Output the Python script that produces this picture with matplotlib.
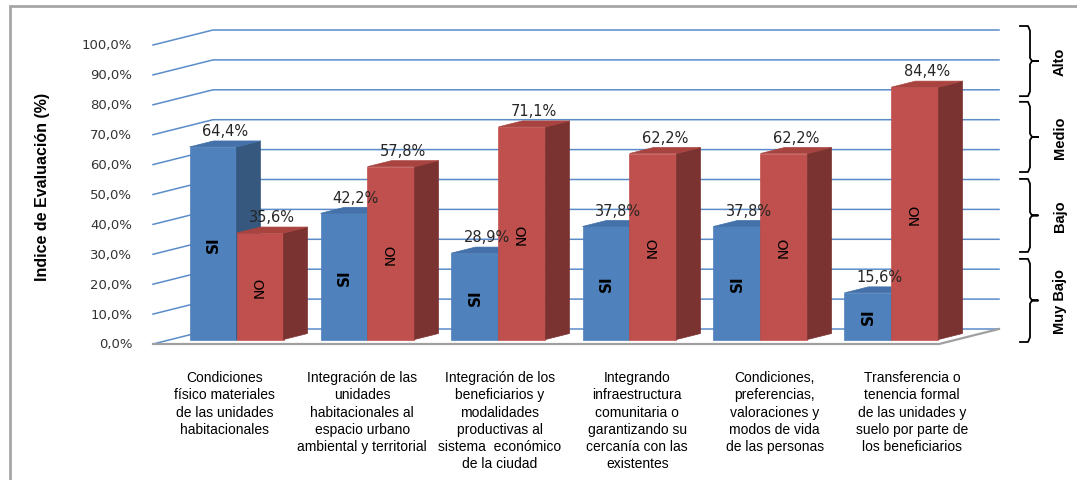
import matplotlib
matplotlib.use("Agg")
import matplotlib.pyplot as plt
from matplotlib.patches import Polygon, Rectangle

# -------- DATA --------
categorias = [
    "Condiciones\nfísico materiales\nde las unidades\nhabitacionales",
    "Integración de las\nunidades\nhabitacionales al\nespacio urbano\nambiental y territorial",
    "Integración de los\nbeneficiarios y\nmodalidades\nproductivas al\nsistema  económico\nde la ciudad",
    "Integrando\ninfraestructura\ncomunitaria o\ngarantizando su\ncercanía con las\nexistentes",
    "Condiciones,\npreferencias,\nvaloraciones y\nmodos de vida\nde las personas",
    "Transferencia o\ntenencia formal\nde las unidades y\nsuelo por parte de\nlos beneficiarios",
]
si = [64.4, 42.2, 28.9, 37.8, 37.8, 15.6]
no = [35.6, 57.8, 71.1, 62.2, 62.2, 84.4]
ticks = list(range(0, 101, 10))
niveles = ["Muy Bajo", "Bajo", "Medio", "Alto"]
rangos = [(0, 26.3), (28.5, 51.6), (53.8, 76.0), (77.8, 100)]

# -------- STYLE --------
W, H = 1077, 481
BLUE = ("#4F81BD", "#36587F", "#4471A9")   # front, side, top
RED = ("#C0504D", "#7B3331", "#A9433F")
GRID = "#5B8CC9"
NARROW = ["Liberation Sans Narrow", "Liberation Sans", "DejaVu Sans"]

fig = plt.figure(figsize=(W / 100, H / 100), dpi=100)


def px_axes(x0, y0, x1, y1):
    return fig.add_axes([x0 / W, 1 - y1 / H, (x1 - x0) / W, (y1 - y0) / H])


ax = px_axes(153, 46, 939, 345)
ax.set_xlim(0, 6)
ax.set_ylim(0, 100)
ax.axis("off")

# pixel -> data unit conversion for the fake 3D depth
ux = 786 / 6.0
uy = 299 / 100.0
wall_dx, wall_dy = 60 / ux, 15 / uy          # depth of the back wall
set_dx, set_dy = 18 / ux, 4.5 / uy           # bars sit a bit behind the front
bar_dx, bar_dy = 24 / ux, 6 / uy             # bar depth
bw = 47 / ux                                 # bar width

# gridlines: diagonal on the side wall + horizontal on the back wall
for t in ticks:
    ax.plot([0, wall_dx, 6 + wall_dx], [t, t + wall_dy, t + wall_dy],
            color=GRID, lw=1.1, zorder=1, clip_on=False)
    ax.annotate(f"{t:.1f}%".replace(".", ","), (0, t), xytext=(-15, 0),
                textcoords="offset points", ha="right", va="center",
                fontsize=9.5, color="#333333", annotation_clip=False)

# floor edge
ax.plot([0, 6, 6 + wall_dx], [0, 0, wall_dy], color="#A0A0A0", lw=1.6,
        zorder=2, clip_on=False)


def bar3d(x0, v, colors, texto, bold):
    y0 = set_dy
    front = [(x0, y0), (x0 + bw, y0), (x0 + bw, y0 + v), (x0, y0 + v)]
    side = [(x0 + bw, y0), (x0 + bw + bar_dx, y0 + bar_dy),
            (x0 + bw + bar_dx, y0 + v + bar_dy), (x0 + bw, y0 + v)]
    top = [(x0, y0 + v), (x0 + bw, y0 + v),
           (x0 + bw + bar_dx, y0 + v + bar_dy), (x0 + bar_dx, y0 + v + bar_dy)]
    for pts, c in zip((front, side, top), colors):
        ax.add_patch(Polygon(pts, closed=True, fc=c, ec=c, lw=0.5,
                             zorder=3, clip_on=False))
    ax.text(x0 + bw / 2, y0 + v / 2, texto, rotation=90, ha="center",
            va="center", fontsize=11 if bold else 10,
            fontweight="bold" if bold else "normal", color="black", zorder=5)
    ax.annotate(f"{v:.1f}%".replace(".", ","),
                (x0 + bw / 2 + bar_dx / 2, y0 + v + bar_dy), xytext=(0, 2),
                textcoords="offset points", ha="center", va="bottom",
                fontsize=10.5, color="#262626", zorder=6,
                annotation_clip=False)


for i, (s, n) in enumerate(zip(si, no)):
    c = i + 0.5 + set_dx
    bar3d(c - bw, s, BLUE, "SI", True)
    bar3d(c, n, RED, "NO", False)

# category labels
ax_lab = px_axes(156, 360, 981, 470)
ax_lab.set_xlim(0, 6)
ax_lab.set_ylim(0, 1)
ax_lab.axis("off")
for i, cat in enumerate(categorias):
    ax_lab.text(i + 0.5, 0.9, cat, ha="center", va="top", fontsize=10,
                family=["Liberation Sans", "DejaVu Sans"], linespacing=1.3,
                color="black")

# y axis title
fig.text(43 / W, 1 - 187 / H, "Indice de Evaluación (%)", rotation=90,
         ha="center", va="center", fontsize=11.5, fontweight="bold",
         family=NARROW)

# rating brackets on the right
ax_r = px_axes(1015, 27, 1077, 343)
ax_r.set_xlim(0, 62)
ax_r.set_ylim(0, 100)
ax_r.axis("off")
for nivel, (lo, hi) in zip(niveles, rangos):
    mid = (lo + hi) / 2
    xs = [5, 13, 15, 15, 17, 23, 17, 15, 15, 13, 5]
    ys = [hi, hi, hi - 1.5, mid + 1, mid, mid, mid, mid - 1, lo + 1.5, lo, lo]
    ax_r.plot(xs, ys, color="black", lw=1.3, clip_on=False)
    ax_r.text(45, mid, nivel, rotation=90, ha="center", va="center",
              fontsize=10.5, fontweight="bold", family=NARROW)

# outer chart border (cut by the image edge on right and bottom)
fig.add_artist(Rectangle((10 / W, -0.05), 1.1, 1 - 7 / H + 0.05,
                         transform=fig.transFigure, fill=False,
                         ec="#A6A6A6", lw=2))

fig.savefig("out.png", dpi=100, facecolor="white")
